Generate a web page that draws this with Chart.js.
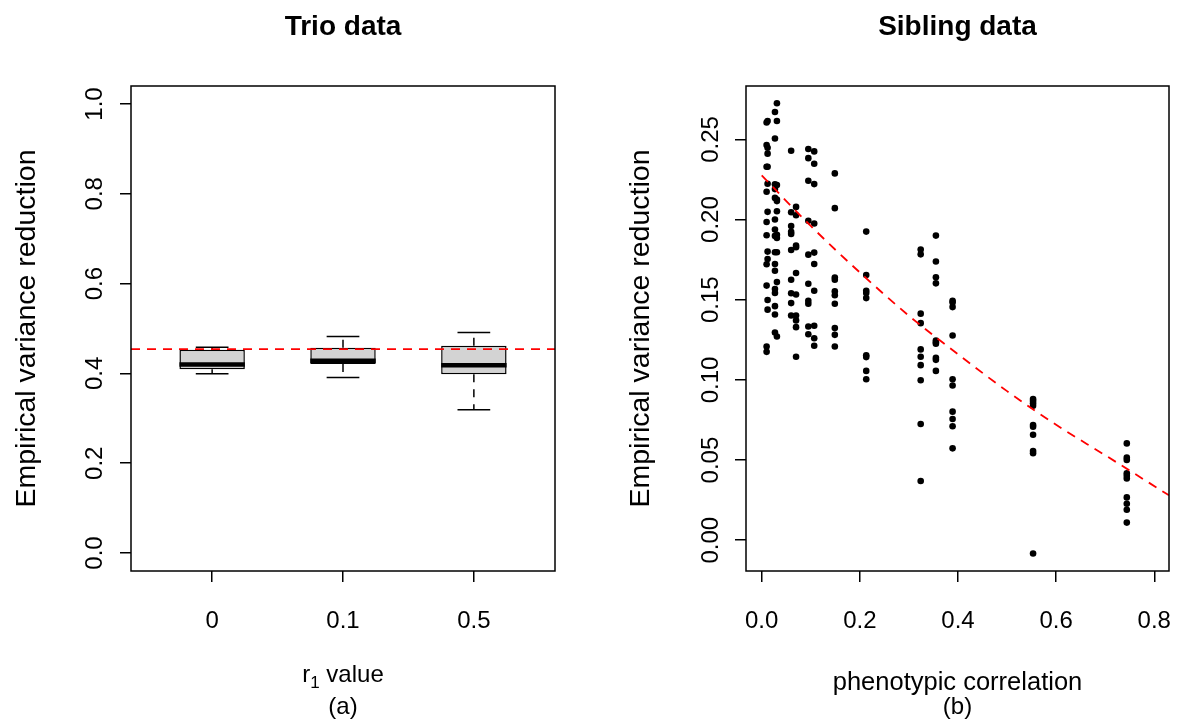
<!DOCTYPE html>
<html>
<head>
<meta charset="utf-8">
<script src="https://cdn.jsdelivr.net/npm/chart.js@4.4.1/dist/chart.umd.min.js"></script>
<style>
html, body { margin: 0; padding: 0; background: #fff; }
#wrap { position: relative; width: 1178px; height: 727px; }
canvas { position: absolute; top: 0; }
</style>
</head>
<body>
<div id="wrap">
  <canvas id="trio" width="589" height="727" style="left:0"></canvas>
  <canvas id="sib" width="589" height="727" style="left:589px"></canvas>
</div>
<script>
// left panel: boxplots of variance reduction per r1 value
const trioGroups = ['0', '0.1', '0.5'];
const trioMin = [0.399, 0.391, 0.319];
const trioQ1 = [0.4095, 0.421, 0.398];
const trioMedian = [0.420, 0.428, 0.418];
const trioQ3 = [0.4525, 0.457, 0.4615];
const trioMax = [0.4585, 0.482, 0.491];
const trioRefLine = 0.454;
const trioYTicks = [0, 0.2, 0.4, 0.6, 0.8, 1.0];

// right panel: points grouped by phenotypic correlation
const sibCorr = [0.010, 0.012, 0.027, 0.031, 0.060, 0.070, 0.095, 0.107, 0.149, 0.213, 0.324, 0.355, 0.389, 0.553, 0.744];
const sibReduction = [
  [0.2605, 0.2465, 0.2329, 0.2173, 0.1985, 0.1902, 0.1721, 0.1588, 0.1208, 0.1175],
  [0.2615, 0.2448, 0.2411, 0.2329, 0.2223, 0.2048, 0.1800, 0.1754, 0.1498, 0.1438],
  [0.2671, 0.2506, 0.2220, 0.2190, 0.2135, 0.2000, 0.1938, 0.1898, 0.1796, 0.1723, 0.1681, 0.1567, 0.1542, 0.1460, 0.1408, 0.1296],
  [0.2725, 0.2615, 0.2215, 0.2125, 0.2115, 0.2052, 0.1905, 0.1885, 0.1796, 0.1610, 0.1271],
  [0.2429, 0.2046, 0.1960, 0.1923, 0.1910, 0.1810, 0.1625, 0.1540, 0.1479, 0.1402],
  [0.2079, 0.2027, 0.1838, 0.1827, 0.1667, 0.1533, 0.1402, 0.1371, 0.1329, 0.1144],
  [0.2440, 0.2383, 0.2242, 0.1992, 0.1781, 0.1600, 0.1494, 0.1475, 0.1333, 0.1285],
  [0.2425, 0.2348, 0.2221, 0.1975, 0.1794, 0.1723, 0.1556, 0.1338, 0.1260, 0.1213],
  [0.2288, 0.2071, 0.1638, 0.1625, 0.1552, 0.1528, 0.1475, 0.1323, 0.1281, 0.1208],
  [0.1925, 0.1654, 0.1556, 0.1542, 0.1510, 0.1154, 0.1142, 0.1056, 0.1004],
  [0.1813, 0.1783, 0.1413, 0.1354, 0.1190, 0.1144, 0.1092, 0.0998, 0.0725, 0.0369],
  [0.1900, 0.1738, 0.1640, 0.1602, 0.1245, 0.1235, 0.1225, 0.1138, 0.1125, 0.1056],
  [0.1494, 0.1483, 0.1454, 0.1277, 0.1004, 0.0965, 0.0802, 0.0756, 0.0711, 0.0573],
  [0.0881, 0.0869, 0.0854, 0.0838, 0.0719, 0.0708, 0.0658, 0.0556, 0.0542, -0.0083],
  [0.0604, 0.0515, 0.0500, 0.0417, 0.0402, 0.0385, 0.0267, 0.0227, 0.0190, 0.0110]
];
const sibCurveX = [0, 0.1, 0.2, 0.3, 0.4, 0.5, 0.6, 0.7, 0.83];
const sibCurveY = [0.2275, 0.196, 0.167, 0.140, 0.116, 0.093, 0.072, 0.053, 0.028];
const sibXTicks = [0, 0.2, 0.4, 0.6, 0.8];
const sibYTicks = [0, 0.05, 0.10, 0.15, 0.20, 0.25];

const FONT = "'Liberation Sans', Arial, Helvetica, sans-serif";
Chart.defaults.font.family = FONT;
Chart.defaults.color = '#000';

function line(ctx, x1, y1, x2, y2) {
  ctx.beginPath();
  ctx.moveTo(x1, y1);
  ctx.lineTo(x2, y2);
  ctx.stroke();
}

// frame, titles, rotated y tick labels, axis labels
function rStyle(opts) {
  return {
    id: 'rstyle',
    afterDraw(chart) {
      const ctx = chart.ctx, a = chart.chartArea, ys = chart.scales.y;
      const cx = (a.left + a.right) / 2;
      ctx.save();
      ctx.strokeStyle = '#000';
      ctx.lineWidth = 1.5;
      ctx.strokeRect(a.left, a.top, a.right - a.left, a.bottom - a.top);
      ctx.fillStyle = '#000';
      ctx.textAlign = 'center';
      ctx.textBaseline = 'middle';
      ctx.font = 'bold 28px ' + FONT;
      ctx.fillText(opts.title, cx, 27);
      ctx.font = '24px ' + FONT;
      ys.ticks.forEach(t => {
        ctx.save();
        ctx.translate(opts.tickX, ys.getPixelForValue(t.value));
        ctx.rotate(-Math.PI / 2);
        ctx.fillText(t.value.toFixed(opts.digits), 0, 0);
        ctx.restore();
      });
      ctx.save();
      ctx.font = '28.5px ' + FONT;
      ctx.translate(opts.labelX, (a.top + a.bottom) / 2);
      ctx.rotate(-Math.PI / 2);
      ctx.fillText('Empirical variance reduction', 0, 0);
      ctx.restore();
      opts.xLabel(ctx, cx);
      ctx.font = '24px ' + FONT;
      ctx.textAlign = 'center';
      ctx.fillText(opts.panel, cx, 707);
      ctx.restore();
    }
  };
}

const boxParts = {
  id: 'boxparts',
  afterDatasetsDraw(chart) {
    const ctx = chart.ctx, xs = chart.scales.x, ys = chart.scales.y, a = chart.chartArea;
    const py = v => ys.getPixelForValue(v);
    ctx.save();
    ctx.strokeStyle = '#000';
    trioGroups.forEach((g, i) => {
      const pos = i + 1;
      const x = xs.getPixelForValue(pos);
      const capL = xs.getPixelForValue(pos - 0.125), capR = xs.getPixelForValue(pos + 0.125);
      const boxL = xs.getPixelForValue(pos - 0.25), boxR = xs.getPixelForValue(pos + 0.25);
      ctx.lineWidth = 1.5;
      ctx.setLineDash([8, 7]);
      line(ctx, x, py(trioQ3[i]), x, py(trioMax[i]));
      line(ctx, x, py(trioQ1[i]), x, py(trioMin[i]));
      ctx.setLineDash([]);
      line(ctx, capL, py(trioMax[i]), capR, py(trioMax[i]));
      line(ctx, capL, py(trioMin[i]), capR, py(trioMin[i]));
      ctx.lineWidth = 4.5;
      line(ctx, boxL, py(trioMedian[i]), boxR, py(trioMedian[i]));
    });
    ctx.strokeStyle = '#FF0000';
    ctx.lineWidth = 1.8;
    ctx.setLineDash([9, 7]);
    line(ctx, a.left, py(trioRefLine), a.right, py(trioRefLine));
    ctx.restore();
  }
};

function tickGrid() {
  return { display: true, drawOnChartArea: false, drawTicks: true, tickLength: 11, color: '#000', lineWidth: 1.5, offset: false };
}

// fixed axis box sizes so the plot frames land where R put them
function fixX(s) {
  s.height = 156;
  s.paddingLeft = 0;
  s.paddingRight = 0;
}

new Chart(document.getElementById('trio'), {
  type: 'bar',
  data: {
    datasets: [{
      data: trioGroups.map((g, i) => ({ x: i + 1, y: [trioQ1[i], trioQ3[i]] })),
      backgroundColor: '#D3D3D3',
      borderColor: '#000',
      borderWidth: 1.5,
      borderSkipped: false,
      barPercentage: 0.5,
      categoryPercentage: 1
    }]
  },
  options: {
    responsive: false,
    animation: false,
    layout: { padding: { left: 0, top: 86, right: 34, bottom: 0 } },
    plugins: { legend: { display: false }, tooltip: { enabled: false } },
    scales: {
      x: {
        type: 'linear', min: 0.38, max: 3.62, offset: false,
        grid: tickGrid(), border: { display: false },
        afterBuildTicks: s => { s.ticks = trioGroups.map((g, i) => ({ value: i + 1 })); },
        ticks: { font: { size: 24 }, color: '#000', padding: 25, autoSkip: false, maxRotation: 0,
                 callback: (v, idx) => trioGroups[idx] },
        afterFit: fixX
      },
      y: {
        type: 'linear', min: -0.04, max: 1.04,
        grid: tickGrid(), border: { display: false },
        afterBuildTicks: s => { s.ticks = trioYTicks.map(v => ({ value: v })); },
        ticks: { display: false },
        afterFit: s => { s.width = 131; }
      }
    }
  },
  plugins: [boxParts, rStyle({
    title: 'Trio data', tickX: 95, labelX: 27, digits: 1, panel: '(a)',
    xLabel: (ctx, cx) => {
      ctx.font = '24px ' + FONT;
      const w1 = ctx.measureText('r').width, w3 = ctx.measureText(' value').width;
      ctx.font = '17px ' + FONT;
      const w2 = ctx.measureText('1').width;
      let x = cx - (w1 + w2 + w3) / 2;
      ctx.textAlign = 'left';
      ctx.font = '24px ' + FONT; ctx.fillText('r', x, 675); x += w1;
      ctx.font = '17px ' + FONT; ctx.fillText('1', x, 683); x += w2;
      ctx.font = '24px ' + FONT; ctx.fillText(' value', x, 675);
    }
  })]
});

const sibPoints = [];
sibCorr.forEach((x, i) => sibReduction[i].forEach(y => sibPoints.push({ x: x, y: y })));

new Chart(document.getElementById('sib'), {
  type: 'scatter',
  data: {
    datasets: [
      {
        type: 'line',
        data: sibCurveX.map((x, i) => ({ x: x, y: sibCurveY[i] })),
        borderColor: '#FF0000', borderWidth: 1.8, borderDash: [9, 7],
        pointRadius: 0, fill: false, cubicInterpolationMode: 'monotone'
      },
      {
        data: sibPoints,
        backgroundColor: '#000', borderColor: '#000', borderWidth: 0, pointRadius: 3.3
      }
    ]
  },
  options: {
    responsive: false,
    animation: false,
    layout: { padding: { left: 0, top: 86, right: 9, bottom: 0 } },
    plugins: { legend: { display: false }, tooltip: { enabled: false } },
    scales: {
      x: {
        type: 'linear', min: -0.032, max: 0.830,
        grid: tickGrid(), border: { display: false },
        afterBuildTicks: s => { s.ticks = sibXTicks.map(v => ({ value: v })); },
        ticks: { font: { size: 24 }, color: '#000', padding: 25, autoSkip: false, maxRotation: 0,
                 callback: v => v.toFixed(1) },
        afterFit: fixX
      },
      y: {
        type: 'linear', min: -0.0192, max: 0.2833,
        grid: tickGrid(), border: { display: false },
        afterBuildTicks: s => { s.ticks = sibYTicks.map(v => ({ value: v })); },
        ticks: { display: false },
        afterFit: s => { s.width = 157; }
      }
    }
  },
  plugins: [rStyle({
    title: 'Sibling data', tickX: 122, labelX: 52, digits: 2, panel: '(b)',
    xLabel: (ctx, cx) => {
      ctx.font = '25.5px ' + FONT;
      ctx.fillText('phenotypic correlation', cx, 683);
    }
  })]
});
</script>
</body>
</html>
